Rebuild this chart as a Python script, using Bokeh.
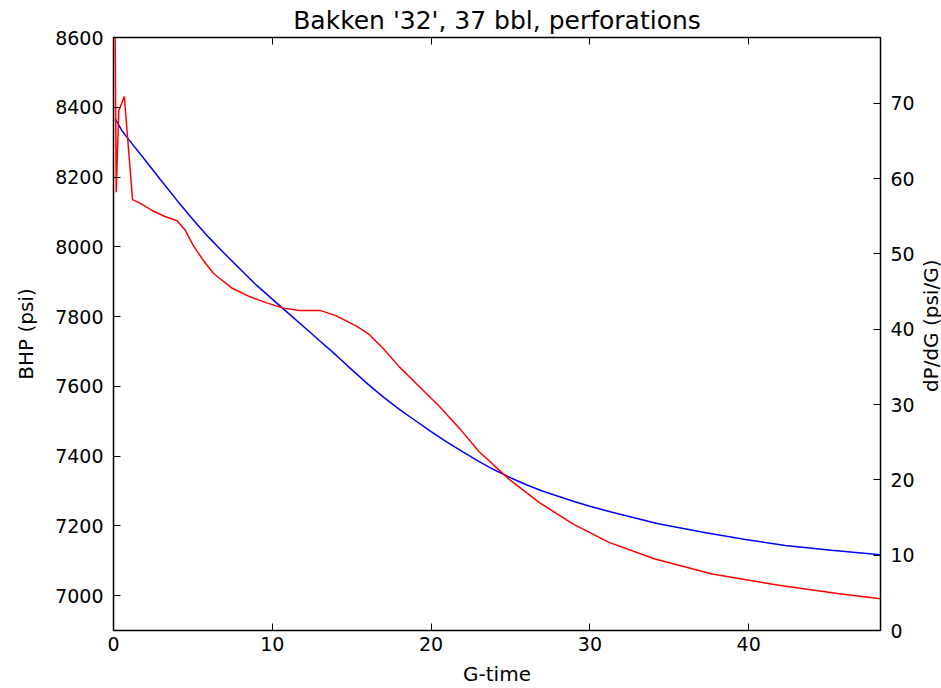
import math
from bokeh.plotting import figure
from bokeh.models import Range1d, LinearAxis, FixedTicker
from bokeh.layouts import row
from bokeh.core.properties import value
from bokeh.embed import file_html
from bokeh.resources import INLINE

# G-time vs BHP (left axis)
g_bhp = [0.1, 0.5, 1.0, 2.0, 3.0, 4.0, 5.0, 6.0, 7.0, 8.0, 9.0, 10.0, 11.0, 12.0,
         13.0, 14.0, 15.0, 16.0, 17.0, 18.0, 19.0, 20.0, 21.0, 22.0, 23.0, 24.0,
         25.0, 26.0, 27.0, 28.0, 29.0, 30.0, 31.4, 34.3, 37.3, 39.8, 42.3, 45.2, 48.3]
bhp = [8368, 8335, 8305, 8248, 8190, 8133, 8078, 8027, 7980, 7935, 7890, 7850, 7810,
       7770, 7730, 7690, 7648, 7607, 7569, 7534, 7502, 7470, 7440, 7412, 7385, 7360,
       7338, 7318, 7300, 7285, 7270, 7256, 7239, 7206, 7180, 7161, 7144, 7130, 7117]

# G-time vs dP/dG (right axis)
g_dpdg = [0.10, 0.17, 0.33, 0.68, 1.2, 1.7, 2.4, 3.2, 4.0, 4.5, 5.0, 5.6, 6.3, 7.5,
          8.6, 9.65, 10.7, 11.7, 13.0, 14.0, 15.3, 16.1, 17.0, 18.0, 19.3, 20.5,
          21.8, 23.0, 24.9, 26.8, 28.9, 31.2, 34.1, 37.7, 41.9, 45.6, 48.3]
dpdg = [80.0, 58.2, 69.0, 70.9, 57.2, 56.7, 55.8, 55.0, 54.4, 53.2, 51.2, 49.3, 47.4,
        45.4, 44.3, 43.5, 42.8, 42.5, 42.5, 41.8, 40.4, 39.3, 37.4, 35.0, 32.3, 29.8,
        26.8, 23.8, 20.1, 17.0, 14.2, 11.7, 9.5, 7.5, 6.0, 4.9, 4.2]

x_ticks = [0, 10, 20, 30, 40]
left_ticks = [7000, 7200, 7400, 7600, 7800, 8000, 8200, 8400, 8600]
right_ticks = [0, 10, 20, 30, 40, 50, 60, 70]
right_max = 78.73
right_title = "dP/dG (psi/G)"

FONT = "DejaVu Sans"
W, H = 917, 688
BL, BR, BT, BB = 113, 35, 37, 56
W2 = 941 - W

p = figure(width=W, height=H, output_backend="svg", toolbar_location=None,
           x_range=Range1d(0, 48.3), y_range=Range1d(6900, 8600),
           title="Bakken '32', 37 bbl, perforations",
           min_border_left=BL, min_border_right=BR, min_border_top=BT,
           min_border_bottom=BB)
p.extra_y_ranges = {"r": Range1d(0, right_max)}

p.title.align = "center"
p.title.text_font = FONT
p.title.text_font_size = "25px"
p.title.text_font_style = "normal"
p.title.text_color = "black"
p.title.offset = 12  # keep title centred over the frame of the full 941px chart
p.title.standoff = 6

p.xgrid.visible = False
p.ygrid.visible = False
p.outline_line_color = "black"
p.outline_line_width = 1.5
p.outline_line_alpha = 1.0
p.background_fill_color = "white"
p.border_fill_color = "white"


def style(ax, show_labels=True):
    ax.axis_line_color = None
    ax.major_tick_in = 7
    ax.major_tick_out = 0
    ax.minor_tick_line_color = None
    ax.major_tick_line_color = "black"
    ax.major_tick_line_width = 1
    ax.major_label_text_font = FONT
    ax.major_label_text_font_size = "19px"
    ax.major_label_text_color = "black" if show_labels else None
    ax.axis_label_text_font = FONT
    ax.axis_label_text_font_size = "20px"
    ax.axis_label_text_font_style = "normal"
    ax.axis_label_text_color = "black"


xa = p.xaxis[0]
xa.ticker = FixedTicker(ticks=x_ticks)
xa.axis_label = "G-time"
style(xa)
xa.major_label_standoff = 6
xa.axis_label_standoff = 8

ya = p.yaxis[0]
ya.ticker = FixedTicker(ticks=left_ticks)
ya.axis_label = "BHP (psi)"
style(ya)
ya.major_label_standoff = 10
ya.axis_label_standoff = 14

ra = LinearAxis(y_range_name="r", ticker=FixedTicker(ticks=right_ticks))
style(ra)
ra.major_label_standoff = 10
p.add_layout(ra, "right")

ta = LinearAxis(ticker=FixedTicker(ticks=x_ticks))
style(ta, show_labels=False)
ta.major_label_text_font_size = "0px"
ta.major_label_standoff = 0
p.add_layout(ta, "above")

p.line(g_bhp, bhp, line_color="#0000ff", line_width=1.5)
p.line(g_dpdg, dpdg, line_color="#ff0000", line_width=1.5, y_range_name="r")

# narrow strip on the right that carries the right axis title (bottom-to-top)
p2 = figure(width=W2, height=H, output_backend="svg", toolbar_location=None,
            x_range=Range1d(0, W2), y_range=Range1d(0, H),
            min_border_left=0, min_border_right=0, min_border_top=0,
            min_border_bottom=0)
p2.axis.visible = False
p2.xgrid.visible = False
p2.ygrid.visible = False
p2.outline_line_color = None
p2.background_fill_color = "white"
p2.border_fill_color = "white"
frame_mid = H - (BT + (H - BB)) / 2
p2.text(x=[W2 - 11], y=[frame_mid], text=[right_title], angle=math.pi / 2,
        text_align="center", text_baseline="middle", text_font=value(FONT),
        text_font_size="20px", text_color="black")

layout = row(p, p2, spacing=0)
open("out.html", "w").write(file_html(layout, INLINE))
